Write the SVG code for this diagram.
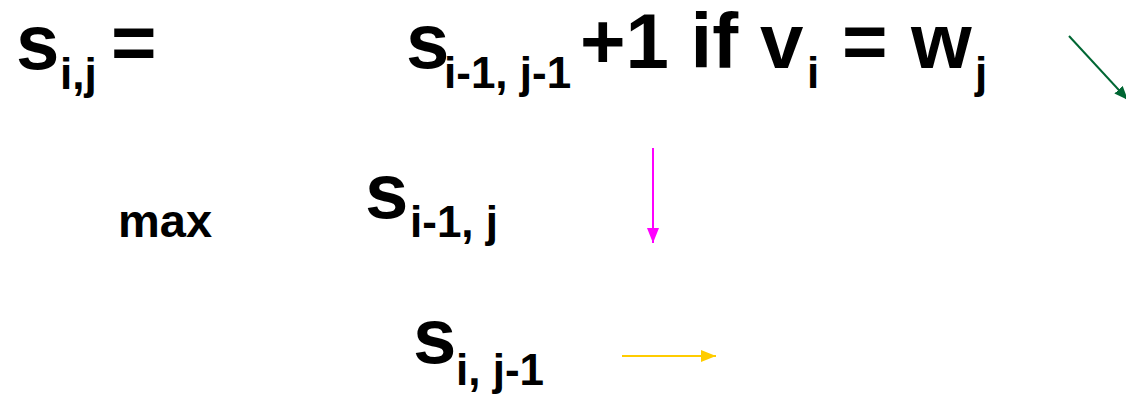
<svg xmlns="http://www.w3.org/2000/svg" width="1126" height="398" viewBox="0 0 1126 398">
<style>
text{font-family:"Liberation Sans",Arial,sans-serif;font-weight:bold;fill:#000}
.big{font-size:78px}
.sub{font-size:44px}
.mid{font-size:47px}
</style>
<defs>
<marker id="hg" viewBox="0 0 10 8" refX="10" refY="4" markerWidth="7" markerHeight="5.6" orient="auto" markerUnits="strokeWidth"><path d="M0,0L10,4L0,8z" fill="#006633"/></marker>
<marker id="hm" viewBox="0 0 10 8" refX="10" refY="4" markerWidth="7.5" markerHeight="6" orient="auto" markerUnits="strokeWidth"><path d="M0,0L10,4L0,8z" fill="#FF00FF"/></marker>
<marker id="hy" viewBox="0 0 10 8" refX="10" refY="4" markerWidth="7.5" markerHeight="6.5" orient="auto" markerUnits="strokeWidth"><path d="M0,0L10,4L0,8z" fill="#FFCC00"/></marker>
</defs>
<g id="lhs"><text class="big" x="16" y="69">s<tspan class="sub" x="60" dy="20">i,j</tspan><tspan x="111" dy="-20">=</tspan></text></g>
<g id="case-diag"><text class="big" x="406" y="68">s<tspan class="sub" x="444" dy="20">i-1, j-1</tspan><tspan x="580" dy="-20">+1 if v</tspan><tspan class="sub" x="807" dy="20">i</tspan><tspan x="842" dy="-20">=</tspan><tspan x="911">w</tspan><tspan class="sub" x="975" dy="20">j</tspan></text></g>
<g id="max"><text class="mid" x="118" y="237">max</text></g>
<g id="case-up"><text class="big" x="365" y="218">s<tspan class="sub" x="410" dy="19">i-1, j</tspan></text></g>
<g id="case-left"><text class="big" x="413" y="363">s<tspan class="sub" x="456" dy="22">i, j-1</tspan></text></g>
<g id="connectors">
<line x1="1069" y1="36" x2="1128" y2="100" stroke="#006633" stroke-width="2" marker-end="url(#hg)"/>
<line x1="653" y1="148" x2="653" y2="243" stroke="#FF00FF" stroke-width="2" marker-end="url(#hm)"/>
<line x1="622" y1="356" x2="716" y2="356" stroke="#FFCC00" stroke-width="2" marker-end="url(#hy)"/>
</g>
</svg>
